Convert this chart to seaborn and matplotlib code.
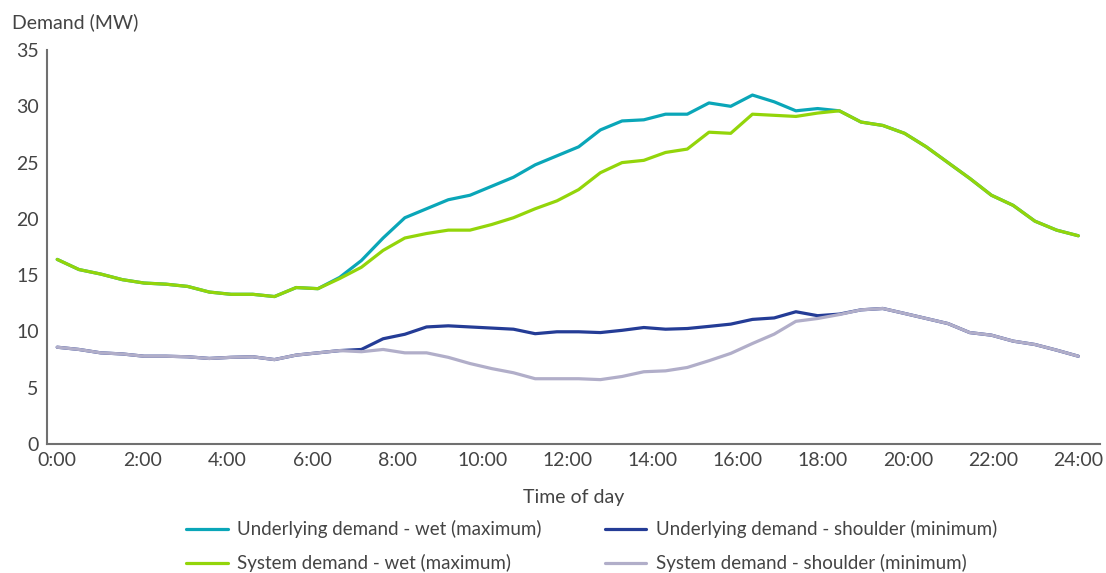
import numpy as np
import pandas as pd
import matplotlib
matplotlib.use('Agg')
import matplotlib.pyplot as plt
import seaborn as sns

# 48 readings across the day, stretched over the 0:00 - 24:00 axis
underlying_wet = [16.4, 15.5, 15.1, 14.6, 14.3, 14.2, 14.0, 13.5, 13.3, 13.3, 13.1, 13.9,
                  13.8, 14.8, 16.3, 18.3, 20.1, 20.9, 21.7, 22.1, 22.9, 23.7, 24.8, 25.6,
                  26.4, 27.9, 28.7, 28.8, 29.3, 29.3, 30.3, 30.0, 31.0, 30.4, 29.6, 29.8,
                  29.6, 28.6, 28.3, 27.6, 26.4, 25.0, 23.6, 22.1, 21.2, 19.8, 19.0, 18.5]
system_wet = [16.4, 15.5, 15.1, 14.6, 14.3, 14.2, 14.0, 13.5, 13.3, 13.3, 13.1, 13.9,
              13.8, 14.7, 15.7, 17.2, 18.3, 18.7, 19.0, 19.0, 19.5, 20.1, 20.9, 21.6,
              22.6, 24.1, 25.0, 25.2, 25.9, 26.2, 27.7, 27.6, 29.3, 29.2, 29.1, 29.4,
              29.6, 28.6, 28.3, 27.6, 26.4, 25.0, 23.6, 22.1, 21.2, 19.8, 19.0, 18.5]
underlying_shoulder = [8.6, 8.4, 8.1, 8.0, 7.8, 7.8, 7.75, 7.6, 7.7, 7.75, 7.5, 7.9,
                       8.1, 8.3, 8.4, 9.35, 9.75, 10.4, 10.5, 10.4, 10.3, 10.2, 9.8, 9.97,
                       9.97, 9.9, 10.1, 10.35, 10.2, 10.26, 10.45, 10.65, 11.07, 11.2, 11.75, 11.4,
                       11.54, 11.92, 12.04, 11.6, 11.15, 10.7, 9.9, 9.67, 9.14, 8.84, 8.34, 7.8]
system_shoulder = [8.6, 8.4, 8.1, 8.0, 7.8, 7.8, 7.75, 7.6, 7.7, 7.75, 7.5, 7.9,
                   8.1, 8.3, 8.2, 8.4, 8.1, 8.1, 7.7, 7.15, 6.7, 6.33, 5.8, 5.8,
                   5.8, 5.72, 6.0, 6.42, 6.5, 6.8, 7.4, 8.05, 8.93, 9.76, 10.9, 11.15,
                   11.5, 11.92, 12.04, 11.6, 11.15, 10.7, 9.9, 9.67, 9.14, 8.84, 8.34, 7.8]

tick_hours = list(range(0, 25, 2))
tick_labels = [f"{h}:00" for h in tick_hours]

series = [
    ("Underlying demand - wet (maximum)", underlying_wet, "#0AA6B8"),
    ("System demand - wet (maximum)", system_wet, "#93D50A"),
    ("Underlying demand - shoulder (minimum)", underlying_shoulder, "#243C96"),
    ("System demand - shoulder (minimum)", system_shoulder, "#B1AEC9"),
]

hours = np.arange(len(system_wet)) * 24 / (len(system_wet) - 1)

sns.set_style("white")
plt.rcParams['font.family'] = ['Lato', 'DejaVu Sans']
text_color = "#444444"

fig = plt.figure(figsize=(11.06, 5.73), dpi=100)
ax = fig.add_axes([0.0425, 0.2251, 0.9521, 0.6876])

for name, vals, col in series:
    df = pd.DataFrame({"hour": hours, "demand": vals})
    sns.lineplot(data=df, x="hour", y="demand", color=col, linewidth=2.3,
                 label=name, ax=ax, legend=False)

ax.set_xlim(-0.24, 24.51)
ax.set_ylim(0, 35)
ax.set_yticks(range(0, 36, 5))
ax.set_xticks(tick_hours)
ax.set_xticklabels(tick_labels)
ax.tick_params(axis='both', length=0, labelsize=14, labelcolor=text_color, pad=6)

for side in ['top', 'right']:
    ax.spines[side].set_visible(False)
for side in ['left', 'bottom']:
    ax.spines[side].set_color("#707070")
    ax.spines[side].set_linewidth(1.5)

ax.set_xlabel("Time of day", fontsize=14, color=text_color, labelpad=14)
ax.set_ylabel("")
fig.text(0.011, 0.962, "Demand (MW)", fontsize=14, color=text_color,
         ha='left', va='center')

handles, labels = ax.get_legend_handles_labels()
leg = fig.legend(handles, labels, ncol=2, loc='center', bbox_to_anchor=(0.535, 0.047),
                 frameon=False, fontsize=13.5, handlelength=2.2, columnspacing=3.4,
                 labelspacing=0.85, handletextpad=0.5)
for t in leg.get_texts():
    t.set_color(text_color)

fig.savefig("out.png", dpi=100)
